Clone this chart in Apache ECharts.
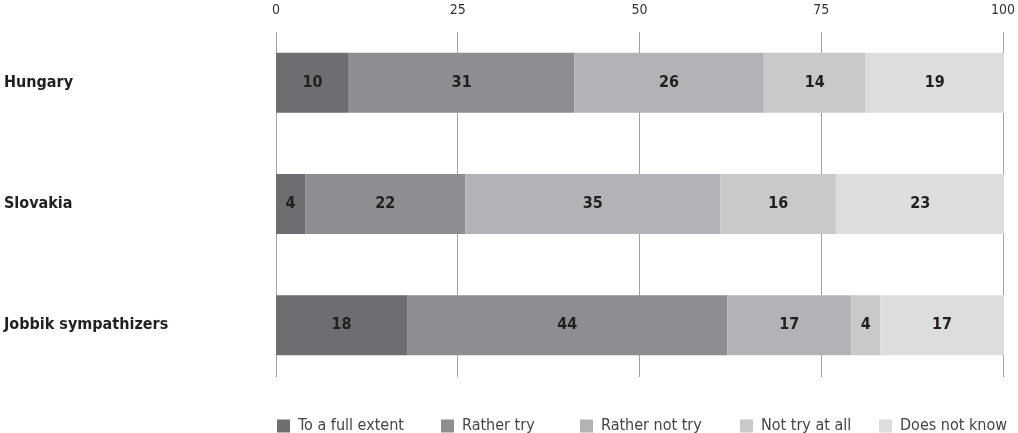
<!DOCTYPE html>
<html><head><meta charset="utf-8">
<script src="https://cdn.jsdelivr.net/npm/echarts@6/dist/echarts.min.js"></script>
<style>html,body{margin:0;padding:0;background:#fff}#c{width:1018px;height:433px}</style>
</head><body><div id="c"></div>
<script>
const categories = ['Hungary', 'Slovakia', 'Jobbik sympathizers'];
const seriesNames = ['To a full extent', 'Rather try', 'Rather not try', 'Not try at all', 'Does not know'];
const fullExtent = [10, 4, 18];
const ratherTry = [31, 22, 44];
const ratherNotTry = [26, 35, 17];
const notTryAtAll = [14, 16, 4];
const doesNotKnow = [19, 23, 17];
const tickLabels = [0, 25, 50, 75, 100];

const values = [fullExtent, ratherTry, ratherNotTry, notTryAtAll, doesNotKnow];
const colors = ['#6d6e72', '#8d8e92', '#b2b3b6', '#c8c9cb', '#dcdddf'];
const FONT = '"DejaVu Sans Condensed", "DejaVu Sans", sans-serif';
const legendLefts = [277, 441, 580, 740, 879];

const chart = echarts.init(document.getElementById('c'), null, {renderer: 'canvas'});
chart.setOption({
  animation: false,
  textStyle: {fontFamily: FONT},
  grid: [
    {left: 276, right: 14, top: 32, bottom: 56, containLabel: false},
    {left: 276, right: 14, top: 22, bottom: 47, containLabel: false}
  ],
  xAxis: [
    {gridIndex: 0, type: 'value', position: 'top', min: tickLabels[0], max: tickLabels[tickLabels.length - 1], interval: 25,
     axisLine: {show: false}, axisTick: {show: false},
     axisLabel: {color: '#333', fontSize: 14, margin: 15, fontFamily: FONT},
     splitLine: {show: true, lineStyle: {color: '#a3a3a3', width: 1}}},
    {gridIndex: 1, type: 'value', min: 0, max: 100, show: false}
  ],
  yAxis: [
    {gridIndex: 0, type: 'category', data: categories, show: false, inverse: true},
    {gridIndex: 1, type: 'category', data: categories, inverse: true,
     axisLine: {show: false}, axisTick: {show: false},
     axisLabel: {align: 'left', margin: 272, color: '#231f20', fontSize: 16, fontWeight: 'bold', fontFamily: FONT}}
  ],
  legend: seriesNames.map((n, i) => ({
    data: [n], left: legendLefts[i], bottom: -1, padding: 0, icon: 'rect', itemWidth: 13, itemHeight: 13, itemGap: 0,
    textStyle: {color: '#444', fontSize: 16, fontFamily: FONT, padding: [0, 0, 0, 3]}
  })),
  series: seriesNames.map((n, i) => ({
    name: n, type: 'bar', stack: 'total', xAxisIndex: 1, yAxisIndex: 1,
    data: values[i], barWidth: 60,
    itemStyle: {color: colors[i]},
    label: {show: true, position: 'inside', color: '#231f20', fontSize: 16, fontWeight: 'bold', fontFamily: FONT}
  }))
});
</script></body></html>
